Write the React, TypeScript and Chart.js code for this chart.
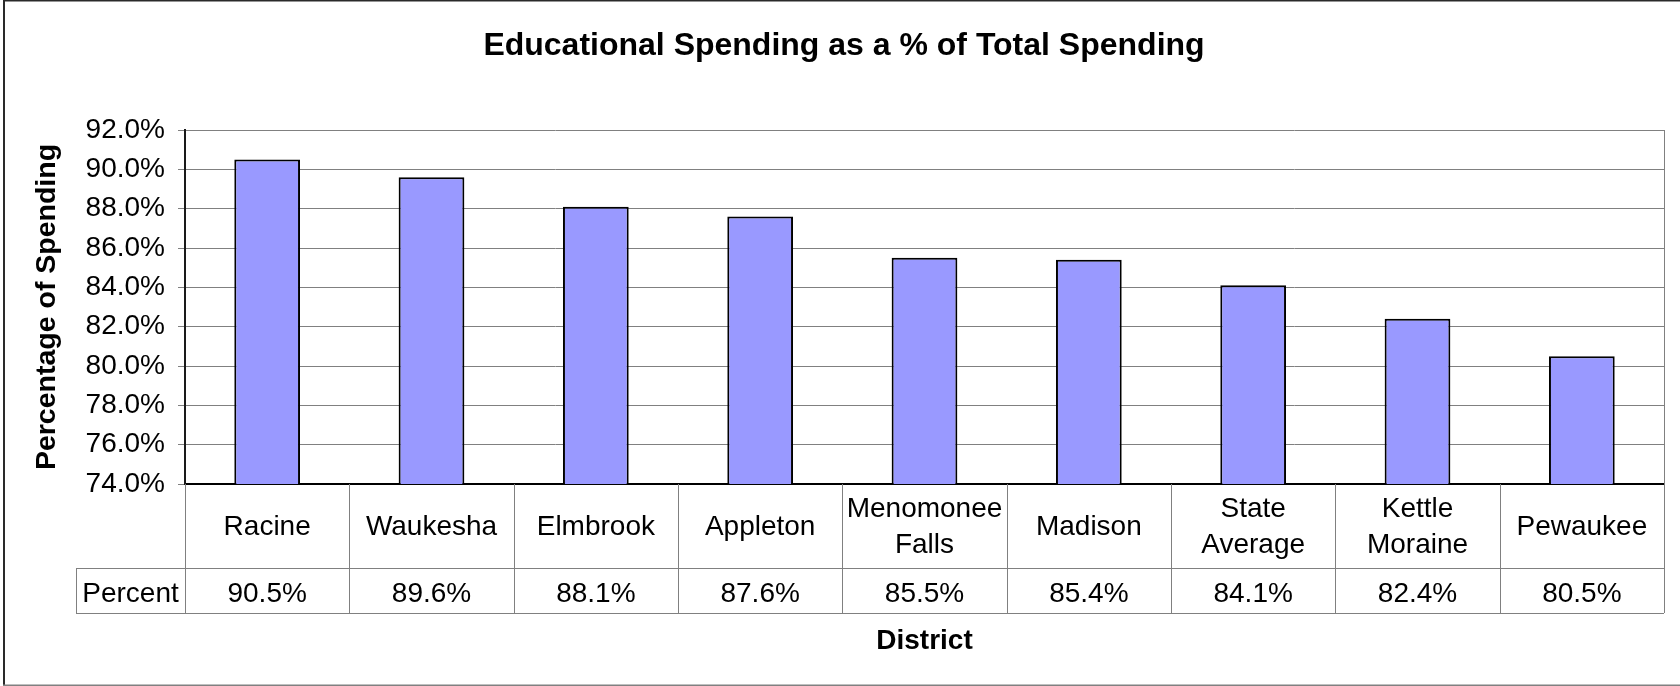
import React, { useEffect, useRef } from "react";
import { Chart, registerables } from "chart.js";

Chart.register(...registerables);

// ---- Data ----
const districts: string[][] = [
  ["Racine"],
  ["Waukesha"],
  ["Elmbrook"],
  ["Appleton"],
  ["Menomonee", "Falls"],
  ["Madison"],
  ["State", "Average"],
  ["Kettle", "Moraine"],
  ["Pewaukee"],
];
const percentValues: number[] = [90.5, 89.6, 88.1, 87.6, 85.5, 85.4, 84.1, 82.4, 80.5];
const yMin = 74;
const yMax = 92;
const yStep = 2;
const chartTitle = "Educational Spending as a % of Total Spending";
const yAxisTitle = "Percentage of Spending";
const xAxisTitle = "District";
const tableRowLabel = "Percent";

const FONT = '"Liberation Sans", Arial, Helvetica, sans-serif';

const fmt = (v: number) => v.toFixed(1) + "%";

const frameAndTablePlugin = {
  id: "frameAndTable",
  afterDraw(chart: any) {
    const { ctx, chartArea, scales } = chart;
    const xs = scales.x;
    const left = chartArea.left;
    const right = chartArea.right;
    const top = chartArea.bottom;
    const catBottom = top + 84;
    const pctBottom = catBottom + 45;
    const labelLeft = 76;
    const n = districts.length;
    const r = (v: number) => Math.round(v) + 0.5;

    ctx.save();
    // outer frame
    ctx.fillStyle = "#2a2a2a";
    ctx.fillRect(3, 0, chart.width - 3, 1.5);
    ctx.fillRect(3, 0, 2, chart.height);
    ctx.fillStyle = "#808080";
    ctx.fillRect(3, chart.height - 1.5, chart.width - 3, 1.5);

    // table grid
    ctx.strokeStyle = "#808080";
    ctx.lineWidth = 1;
    const line = (x1: number, y1: number, x2: number, y2: number) => {
      ctx.beginPath();
      ctx.moveTo(x1, y1);
      ctx.lineTo(x2, y2);
      ctx.stroke();
    };
    line(labelLeft, r(catBottom), right, r(catBottom));
    line(labelLeft, r(pctBottom), right, r(pctBottom));
    line(r(labelLeft), catBottom, r(labelLeft), pctBottom);
    // plot right edge down through table
    line(r(right), chartArea.top, r(right), pctBottom);
    // left edge below the axis
    line(r(left), top, r(left), pctBottom);
    for (let i = 1; i < n; i++) {
      const bx = (xs.getPixelForValue(i - 1) + xs.getPixelForValue(i)) / 2;
      line(r(bx), top, r(bx), pctBottom);
    }

    // texts
    ctx.fillStyle = "#000";
    ctx.font = `28px ${FONT}`;
    ctx.textAlign = "center";
    ctx.textBaseline = "middle";
    const lineH = 36;
    const catMid = (top + catBottom) / 2 + 1;
    const pctMid = (catBottom + pctBottom) / 2 + 3.5;
    for (let i = 0; i < n; i++) {
      const cx = xs.getPixelForValue(i);
      const lines = districts[i];
      const y0 = catMid - ((lines.length - 1) * lineH) / 2;
      lines.forEach((t, k) => ctx.fillText(t, cx, y0 + k * lineH));
      ctx.fillText(fmt(percentValues[i]), cx, pctMid);
    }
    ctx.fillText(tableRowLabel, (labelLeft + left) / 2, pctMid);
    ctx.restore();
  },
};

export default function App() {
  const canvasRef = useRef<HTMLCanvasElement | null>(null);

  useEffect(() => {
    document.body.style.margin = "0";
    document.body.style.overflow = "hidden";
    if (!canvasRef.current) return;
    const chart = new Chart(canvasRef.current, {
      type: "bar",
      data: {
        labels: districts.map((d) => d.join(" ")),
        datasets: [
          {
            label: tableRowLabel,
            data: percentValues,
            backgroundColor: "#9999FF",
            borderColor: "#000000",
            borderWidth: 2,
            barPercentage: 0.5,
            categoryPercentage: 0.8,
          },
        ],
      },
      options: {
        animation: false,
        responsive: true,
        maintainAspectRatio: false,
        layout: { padding: { left: 24, right: 16, top: 0, bottom: 0 } },
        plugins: {
          legend: { display: false },
          tooltip: { enabled: false },
          title: {
            display: true,
            text: chartTitle,
            color: "#000",
            font: { family: FONT, size: 32, weight: "bold", lineHeight: 1.2 },
            padding: { top: 27, bottom: 64.6 },
          },
        },
        scales: {
          x: {
            type: "category",
            grid: { display: false, drawTicks: false },
            border: { display: true, color: "#000", width: 2 },
            ticks: { display: false },
            title: {
              display: true,
              text: xAxisTitle,
              color: "#000",
              font: { family: FONT, size: 28, weight: "bold", lineHeight: 1.2 },
              padding: { top: 0, bottom: 28 },
            },
            afterFit: (scale: any) => {
              scale.height = 202;
            },
          },
          y: {
            type: "linear",
            min: yMin,
            max: yMax,
            grid: {
              color: "#808080",
              lineWidth: 1,
              drawTicks: true,
              tickLength: 7,
              tickColor: "#808080",
            },
            border: { display: true, color: "#1a1a1a", width: 2 },
            ticks: {
              stepSize: yStep,
              autoSkip: false,
              padding: 13,
              color: "#000",
              font: { family: FONT, size: 28 },
              callback: (v: any) => fmt(Number(v)),
            },
            title: {
              display: true,
              text: yAxisTitle,
              color: "#000",
              font: { family: FONT, size: 28.5, weight: "bold", lineHeight: 1.2 },
              padding: { top: 6, bottom: 0 },
            },
            afterFit: (scale: any) => {
              scale.width = 161;
            },
          },
        },
      },
      plugins: [frameAndTablePlugin],
    });
    return () => chart.destroy();
  }, []);

  return (
    <div style={{ width: "1680px", height: "686px", position: "relative", background: "#fff" }}>
      <canvas ref={canvasRef} />
    </div>
  );
}
